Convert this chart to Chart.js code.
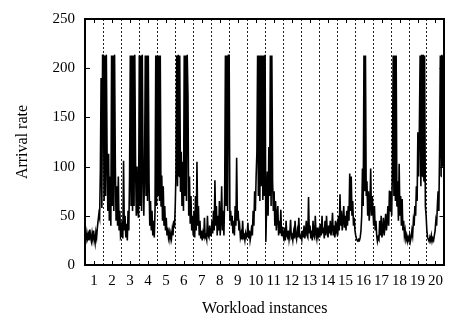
<!DOCTYPE html>
<html>
<head>
<meta charset="utf-8">
<script src="https://cdn.jsdelivr.net/npm/chart.js@4"></script>
<style>
  html, body { margin: 0; padding: 0; background: #fff; }
  #wrap { width: 450px; height: 320px; }
</style>
</head>
<body>
<div id="wrap"><canvas id="chart" width="450" height="320"></canvas></div>
<script>
// Arrival rate samples, 24 per workload instance
const inst01 = [30, 26, 33, 27, 31, 25, 36, 28, 24, 32, 26, 35, 27, 22, 33, 28, 38, 45, 52, 48, 95, 190, 58, 213];
const inst02 = [213, 65, 213, 70, 213, 110, 55, 113, 45, 90, 40, 213, 60, 213, 55, 213, 100, 45, 80, 40, 90, 35, 55, 28];
const inst03 = [30, 45, 27, 106, 35, 50, 28, 42, 25, 55, 35, 90, 213, 60, 213, 55, 213, 60, 213, 104, 50, 100, 55, 48];
const inst04 = [213, 60, 213, 55, 213, 100, 50, 95, 213, 70, 213, 65, 213, 85, 40, 65, 35, 55, 30, 45, 28, 55, 213, 60];
const inst05 = [213, 70, 213, 65, 213, 60, 91, 45, 80, 40, 60, 35, 48, 30, 38, 28, 33, 26, 32, 27, 36, 30, 45, 38];
const inst06 = [60, 95, 213, 80, 213, 90, 213, 75, 115, 60, 105, 55, 213, 70, 213, 65, 213, 171, 50, 90, 42, 70, 35, 50];
const inst07 = [30, 55, 28, 70, 35, 105, 40, 60, 30, 45, 27, 35, 25, 32, 27, 48, 28, 30, 26, 50, 30, 28, 40, 30];
const inst08 = [30, 45, 32, 55, 35, 86, 40, 60, 30, 50, 35, 65, 30, 45, 80, 35, 55, 30, 70, 213, 60, 213, 55, 213];
const inst09 = [213, 45, 55, 40, 50, 32, 45, 30, 60, 40, 109, 45, 55, 35, 40, 28, 32, 26, 45, 28, 30, 25, 32, 28];
const inst10 = [30, 43, 27, 35, 25, 30, 40, 30, 55, 40, 75, 55, 90, 114, 213, 70, 213, 65, 213, 80, 213, 66, 213, 70];
const inst11 = [213, 24, 60, 95, 50, 120, 70, 213, 60, 213, 85, 55, 75, 40, 65, 35, 50, 60, 30, 45, 32, 56, 30, 38];
const inst12 = [30, 27, 38, 25, 45, 30, 28, 35, 26, 32, 46, 28, 30, 25, 33, 27, 45, 30, 26, 34, 28, 48, 30, 27];
const inst13 = [30, 26, 35, 28, 40, 27, 33, 45, 30, 28, 69, 32, 40, 27, 35, 25, 45, 30, 28, 50, 32, 27, 38, 30];
const inst14 = [35, 28, 42, 30, 50, 32, 38, 27, 45, 30, 50, 35, 28, 40, 32, 45, 30, 38, 53, 30, 40, 28, 45, 35];
const inst15 = [40, 30, 50, 35, 72, 40, 55, 35, 45, 60, 38, 50, 35, 55, 40, 60, 45, 93, 55, 90, 50, 65, 40, 48];
const inst16 = [35, 30, 27, 25, 24, 26, 25, 28, 35, 50, 98, 60, 213, 75, 213, 70, 85, 50, 75, 45, 60, 98, 50, 70];
const inst17 = [55, 40, 60, 35, 45, 30, 24, 28, 26, 45, 30, 50, 28, 35, 48, 30, 40, 52, 35, 45, 60, 40, 75, 55];
const inst18 = [75, 50, 100, 213, 70, 213, 65, 213, 60, 85, 45, 103, 50, 70, 40, 67, 35, 45, 30, 35, 26, 30, 24, 28];
const inst19 = [25, 30, 24, 28, 35, 30, 45, 40, 60, 50, 80, 65, 135, 90, 140, 213, 80, 213, 90, 213, 85, 213, 60, 50];
const inst20 = [35, 28, 26, 24, 28, 25, 30, 24, 27, 25, 30, 35, 45, 40, 60, 75, 55, 117, 213, 90, 213, 100, 213, 50];

const instances = [inst01, inst02, inst03, inst04, inst05, inst06, inst07, inst08, inst09, inst10,
                   inst11, inst12, inst13, inst14, inst15, inst16, inst17, inst18, inst19, inst20];
const instanceLabels = ['1', '2', '3', '4', '5', '6', '7', '8', '9', '10',
                        '11', '12', '13', '14', '15', '16', '17', '18', '19', '20'];
const yTicks = [0, 50, 100, 150, 200, 250];

// each instance takes one unit on the x scale, samples spread evenly inside it
const points = instances.flatMap((vals, i) =>
    vals.map((v, k) => ({ x: i + (k + 0.5) / vals.length, y: v })));

const family = "'Liberation Serif', 'Times New Roman', serif";
const tickFont = { family: family, size: 15 };
const titleFont = { family: family, size: 16 };

// dashed separators, inward tick marks and the frame (gnuplot look)
const framePlugin = {
    id: 'frame',
    beforeDatasetsDraw(chart) {
        const { ctx, chartArea: a, scales: { x } } = chart;
        ctx.save();
        ctx.strokeStyle = '#222';
        ctx.lineWidth = 1;
        ctx.setLineDash([2, 2]);
        for (let i = 1; i < instanceLabels.length; i++) {
            const px = Math.round(x.getPixelForValue(i)) + 0.5;
            ctx.beginPath();
            ctx.moveTo(px, a.top);
            ctx.lineTo(px, a.bottom);
            ctx.stroke();
        }
        ctx.restore();
    },
    afterDraw(chart) {
        const { ctx, chartArea: a, scales: { x, y } } = chart;
        ctx.save();
        ctx.strokeStyle = '#000';
        ctx.lineWidth = 1;
        ctx.beginPath();
        x.ticks.forEach(t => {
            const px = Math.round(x.getPixelForValue(t.value)) + 0.5;
            ctx.moveTo(px, a.bottom); ctx.lineTo(px, a.bottom - 4);
            ctx.moveTo(px, a.top); ctx.lineTo(px, a.top + 4);
        });
        y.ticks.forEach(t => {
            const py = Math.round(y.getPixelForValue(t.value)) + 0.5;
            ctx.moveTo(a.left, py); ctx.lineTo(a.left + 5, py);
            ctx.moveTo(a.right, py); ctx.lineTo(a.right - 5, py);
        });
        ctx.stroke();
        ctx.lineWidth = 2;
        ctx.strokeRect(Math.round(a.left), Math.round(a.top), Math.round(a.right - a.left), Math.round(a.bottom - a.top));
        ctx.restore();
    }
};

new Chart(document.getElementById('chart'), {
    type: 'line',
    data: {
        datasets: [{
            data: points,
            borderColor: '#000',
            borderWidth: 1.6,
            pointRadius: 0,
            // tiny tension so Chart.js draws every sample instead of its per-pixel fast path
            tension: 0.001,
            fill: false
        }]
    },
    options: {
        responsive: false,
        animation: false,
        devicePixelRatio: 1,
        layout: { padding: { top: 5, right: 1, left: 0, bottom: 0 } },
        plugins: { legend: { display: false }, tooltip: { enabled: false } },
        scales: {
            x: {
                type: 'linear',
                min: 0,
                max: instanceLabels.length,
                grid: { display: false, drawTicks: false },
                border: { display: false },
                afterBuildTicks: scale => {
                    scale.ticks = instanceLabels.map((_, i) => ({ value: i + 0.5 }));
                },
                afterFit: scale => { scale.height = 55; },
                ticks: {
                    autoSkip: false,
                    maxRotation: 0,
                    padding: 7,
                    color: '#000',
                    font: tickFont,
                    callback: (value, index) => instanceLabels[index]
                },
                title: {
                    display: true,
                    text: 'Workload instances',
                    color: '#000',
                    font: titleFont,
                    padding: { top: 0, bottom: 1.5 }
                }
            },
            y: {
                min: 0,
                max: 250,
                grid: { display: false, drawTicks: false },
                border: { display: false },
                afterBuildTicks: scale => {
                    scale.ticks = yTicks.map(v => ({ value: v }));
                },
                afterFit: scale => { scale.width = 85; },
                ticks: {
                    padding: 10,
                    color: '#000',
                    font: tickFont
                },
                title: {
                    display: true,
                    text: 'Arrival rate',
                    color: '#000',
                    font: titleFont,
                    padding: { top: 13, bottom: 0 }
                }
            }
        }
    },
    plugins: [framePlugin]
});
</script>
</body>
</html>
